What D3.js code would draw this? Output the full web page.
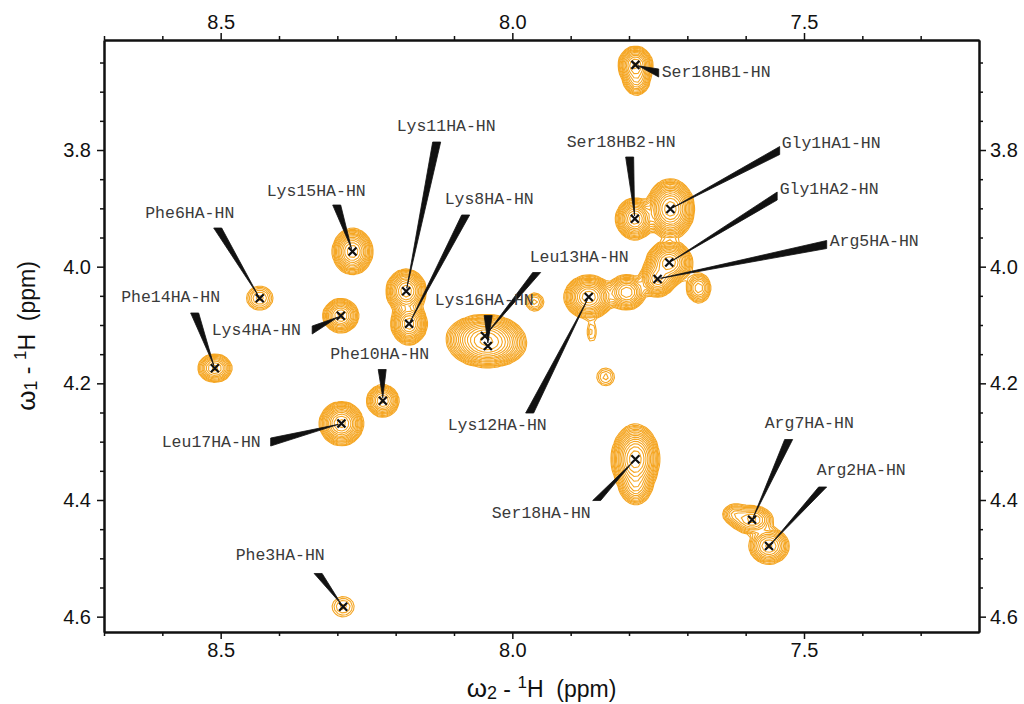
<!DOCTYPE html>
<html>
<head>
<meta charset="utf-8">
<script src="https://cdn.jsdelivr.net/npm/d3@7"></script>
<style>
  html, body { margin: 0; padding: 0; background: #fff; }
  svg { display: block; }
</style>
</head>
<body>
<svg id="chart" width="1024" height="704"></svg>
<script>
// ---- assigned peaks (ppm) ----
const peakNames = ["Gly1HA1-HN","Gly1HA2-HN","Arg2HA-HN","Phe3HA-HN","Lys4HA-HN","Arg5HA-HN",
  "Phe6HA-HN","Arg7HA-HN","Lys8HA-HN","Phe10HA-HN","Lys11HA-HN","Lys12HA-HN","Leu13HA-HN",
  "Phe14HA-HN","Lys15HA-HN","Lys16HA-HN","Leu17HA-HN","Ser18HA-HN","Ser18HB1-HN","Ser18HB2-HN"];
const peakW2 = [7.729, 7.731, 7.560, 8.290, 8.294, 7.751, 8.433, 7.589, 8.177, 8.222,
  8.182, 7.869, 8.047, 8.510, 8.274, 8.042, 8.293, 7.789, 7.789, 7.790];
const peakW1 = [3.901, 3.993, 4.479, 4.583, 4.084, 4.021, 4.054, 4.434, 4.098, 4.230,
  4.042, 4.052, 4.119, 4.174, 3.974, 4.136, 4.269, 4.330, 3.654, 3.918];
// relative intensity and Gaussian line widths (ppm)
const peakHeight = [50, 40, 15, 2.4, 20, 25, 4.2, 12, 30, 15, 30, 40, 35, 12, 30, 35, 35, 50, 25, 30];
const peakSigW2 = [0.0147, 0.0146, 0.0147, 0.0142, 0.0125, 0.0120, 0.0132, 0.0161, 0.0118, 0.0118,
  0.0132, 0.0155, 0.0240, 0.0130, 0.0132, 0.0240, 0.0141, 0.0147, 0.0115, 0.0125];
const peakSigW1 = [0.0183, 0.0137, 0.0132, 0.0130, 0.0118, 0.0120, 0.0121, 0.0108, 0.0137, 0.0118,
  0.0144, 0.0137, 0.0137, 0.0108, 0.0151, 0.0137, 0.0141, 0.0214, 0.0125, 0.0137];

// label text anchors (ppm)
const labelW2 = [7.5366, 7.5400, 7.4766, 8.4726, 8.5137, 7.4543, 8.6277, 7.5657, 8.1143, 8.3106,
  8.1966, 8.1091, 7.9686, 8.6689, 8.4194, 8.1314, 8.5994, 8.0337, 7.7423, 7.9051];
const labelW1 = [3.7974, 3.8746, 4.3571, 4.5029, 4.1171, 3.9646, 3.9166, 4.2766, 3.8934, 4.1583,
  3.7674, 4.2800, 3.9920, 4.0606, 3.8789, 4.0657, 4.3091, 4.4309, 3.6749, 3.7949];
// wide end of each label leader (ppm)
const leaderW2 = [7.5417, 7.5460, 7.4680, 8.3329, 8.3431, 7.4611, 8.5051, 7.5263, 8.0800, 8.2231,
  8.1297, 7.9703, 7.9583, 8.5446, 8.3011, 8.0414, 8.4143, 7.8554, 7.7491, 7.7989];
const leaderW1 = [3.8009, 3.8789, 4.3777, 4.5260, 4.1086, 3.9620, 3.9337, 4.2963, 3.9114, 4.1763,
  3.7863, 4.2509, 4.0100, 4.0794, 3.8943, 4.0837, 4.3006, 4.4009, 3.6680, 3.8120];

// ---- unassigned signals (ppm) ----
const extraW2 = [7.7869, 7.6806, 7.8040, 7.8640, 7.9617, 7.8400, 7.7886, 7.6189];
const extraW1 = [3.6800, 4.0366, 4.0440, 4.1120, 4.0606, 4.1891, 4.3777, 4.4240];
const extraHeight = [10, 8, 18, 2, 3.3, 2.5, 10, 5];
const extraSigW2 = [0.0103, 0.0101, 0.0135, 0.0065, 0.0099, 0.0111, 0.0120, 0.0110];
const extraSigW1 = [0.0120, 0.0125, 0.0125, 0.0140, 0.0099, 0.0111, 0.0137, 0.0090];

// ---- axis ticks ----
const xMajorTicks = [8.5, 8.0, 7.5];
const xMinorTicks = [8.7, 8.6, 8.4, 8.3, 8.2, 8.1, 7.9, 7.8, 7.7, 7.6, 7.4, 7.3];
const yMajorTicks = [3.8, 4.0, 4.2, 4.4, 4.6];
const yMinorTicks = [3.65, 3.70, 3.75, 3.85, 3.90, 3.95, 4.05, 4.10, 4.15, 4.25, 4.30, 4.35,
  4.45, 4.50, 4.55];

// contour levels: lowest 1, factor 1.3
const contourBase = 1, contourFactor = 1.3, contourCount = 24;

const svg = d3.select("#chart");
const plot = { left: 104, top: 40, right: 979, bottom: 632 };
const x = d3.scaleLinear().domain([8.7, 7.2]).range([plot.left, plot.right]);
const y = d3.scaleLinear().domain([3.6114, 4.6263]).range([plot.top, plot.bottom]);

const orange = "#f5a623";
const ink = "#111";

// ---- synthetic spectrum on a grid ----
const cell = 4;
const nx = Math.ceil((plot.right - plot.left) / cell);
const ny = Math.ceil((plot.bottom - plot.top) / cell);
const colPpm = d3.range(nx).map(i => x.invert(plot.left + (i + 0.5) * cell));
const rowPpm = d3.range(ny).map(j => y.invert(plot.top + (j + 0.5) * cell));

const components = [];
peakNames.forEach((n, i) => components.push({ w2: peakW2[i], w1: peakW1[i], h: peakHeight[i], s2: peakSigW2[i], s1: peakSigW1[i] }));
extraW2.forEach((w, i) => components.push({ w2: w, w1: extraW1[i], h: extraHeight[i], s2: extraSigW2[i], s1: extraSigW1[i] }));

const values = new Float64Array(nx * ny);
components.forEach(c => {
  const ex = new Float64Array(nx), ey = new Float64Array(ny);
  for (let i = 0; i < nx; i++) { const u = (colPpm[i] - c.w2) / c.s2; ex[i] = u * u < 60 ? Math.exp(-0.5 * u * u) : 0; }
  for (let j = 0; j < ny; j++) { const v = (rowPpm[j] - c.w1) / c.s1; ey[j] = v * v < 60 ? Math.exp(-0.5 * v * v) : 0; }
  for (let j = 0; j < ny; j++) {
    if (!ey[j]) continue;
    const base = j * nx, f = c.h * ey[j];
    for (let i = 0; i < nx; i++) if (ex[i]) values[base + i] += f * ex[i];
  }
});

const levels = d3.range(contourCount).map(k => contourBase * Math.pow(contourFactor, k));
const contours = d3.contours().size([nx, ny]).thresholds(levels)(values);
const gridPath = d3.geoPath(d3.geoTransform({
  point(px, py) { this.stream.point(plot.left + px * cell, plot.top + py * cell); }
}));

svg.append("defs").append("clipPath").attr("id", "plotClip")
  .append("rect").attr("x", plot.left).attr("y", plot.top)
  .attr("width", plot.right - plot.left).attr("height", plot.bottom - plot.top);

svg.append("g").attr("clip-path", "url(#plotClip)")
  .selectAll("path").data(contours).join("path")
  .attr("d", gridPath)
  .attr("fill", "none")
  .attr("stroke", orange)
  .attr("stroke-width", 1.1)
  .attr("stroke-linejoin", "miter");

// ---- label leaders (wedges) ----
const gLead = svg.append("g");
peakNames.forEach((n, i) => {
  const tx = x(peakW2[i]), ty = y(peakW1[i]);
  const bx = x(leaderW2[i]), by = y(leaderW1[i]);
  const dx = tx - bx, dy = ty - by, len = Math.hypot(dx, dy);
  const ex = tx - dx / len * 3, ey = ty - dy / len * 3;
  const hw = 4;
  const pts = Math.abs(dx) > Math.abs(dy)
    ? [[ex, ey], [bx, by - hw], [bx, by + hw]]
    : [[ex, ey], [bx - hw, by], [bx + hw, by]];
  gLead.append("path")
    .attr("d", "M" + pts.map(p => p.join(",")).join("L") + "Z")
    .attr("fill", ink).attr("stroke", ink).attr("stroke-width", 0.8)
    .attr("stroke-linejoin", "round");
});

// ---- peak markers ----
svg.append("g").selectAll("path").data(peakNames).join("path")
  .attr("transform", (d, i) => `translate(${x(peakW2[i])},${y(peakW1[i])})`)
  .attr("d", "M-4,-4L4,4M-4,4L4,-4")
  .attr("stroke", ink).attr("stroke-width", 2.2).attr("fill", "none");

// ---- peak labels ----
svg.append("g").selectAll("text").data(peakNames).join("text")
  .attr("x", (d, i) => x(labelW2[i]) - 1)
  .attr("y", (d, i) => y(labelW1[i]))
  .attr("fill", "#3a3a3a")
  .style("font-family", "'Courier New', 'Liberation Mono', monospace")
  .style("font-size", "16.5px")
  .text(d => d);

// ---- axes ----
const tickFont = "20px 'Liberation Sans', Arial, sans-serif";
function styleAxis(g) {
  g.select(".domain").attr("stroke", ink).attr("stroke-width", 2);
  g.selectAll(".tick line").attr("stroke", ink).attr("stroke-width", 1.5);
  g.selectAll(".tick text").attr("fill", ink).style("font", tickFont);
}
const fmt = d3.format(".1f");

svg.append("g").attr("transform", `translate(0,${plot.bottom})`)
  .call(d3.axisBottom(x).tickValues(xMinorTicks).tickSize(4).tickSizeOuter(0).tickFormat(""))
  .call(styleAxis);
svg.append("g").attr("transform", `translate(0,${plot.bottom})`)
  .call(d3.axisBottom(x).tickValues(xMajorTicks).tickSize(7).tickSizeOuter(0).tickPadding(4).tickFormat(fmt))
  .call(styleAxis);
svg.append("g").attr("transform", `translate(0,${plot.top})`)
  .call(d3.axisTop(x).tickValues(xMinorTicks).tickSize(4).tickSizeOuter(0).tickFormat(""))
  .call(styleAxis);
svg.append("g").attr("transform", `translate(0,${plot.top})`)
  .call(d3.axisTop(x).tickValues(xMajorTicks).tickSize(7).tickSizeOuter(0).tickPadding(4).tickFormat(fmt))
  .call(styleAxis);
svg.append("g").attr("transform", `translate(${plot.left},0)`)
  .call(d3.axisLeft(y).tickValues(yMinorTicks).tickSize(4).tickSizeOuter(0).tickFormat(""))
  .call(styleAxis);
svg.append("g").attr("transform", `translate(${plot.left},0)`)
  .call(d3.axisLeft(y).tickValues(yMajorTicks).tickSize(7).tickSizeOuter(0).tickPadding(6).tickFormat(fmt))
  .call(styleAxis);
svg.append("g").attr("transform", `translate(${plot.right},0)`)
  .call(d3.axisRight(y).tickValues(yMinorTicks).tickSize(4).tickSizeOuter(0).tickFormat(""))
  .call(styleAxis);
svg.append("g").attr("transform", `translate(${plot.right},0)`)
  .call(d3.axisRight(y).tickValues(yMajorTicks).tickSize(7).tickSizeOuter(0).tickPadding(4).tickFormat(fmt))
  .call(styleAxis);

// ---- axis titles ----
function axisTitle(sel, sub) {
  sel.attr("text-anchor", "middle").attr("fill", ink)
    .style("font", "23px 'Liberation Sans', Arial, sans-serif");
  sel.append("tspan").attr("font-size", "26px").text("\u03c9");
  sel.append("tspan").attr("font-size", "18px").attr("dy", 2).text(sub);
  sel.append("tspan").attr("dy", -2).text("\u00a0-\u00a0");
  sel.append("tspan").attr("font-size", "17px").attr("dy", -9).text("1");
  sel.append("tspan").attr("dy", 9).text("H\u00a0\u00a0(ppm)");
}
axisTitle(svg.append("text").attr("x", (plot.left + plot.right) / 2).attr("y", 697), "2");
axisTitle(svg.append("text")
  .attr("transform", `translate(35,${(plot.top + plot.bottom) / 2}) rotate(-90)`), "1");
</script>
</body>
</html>
